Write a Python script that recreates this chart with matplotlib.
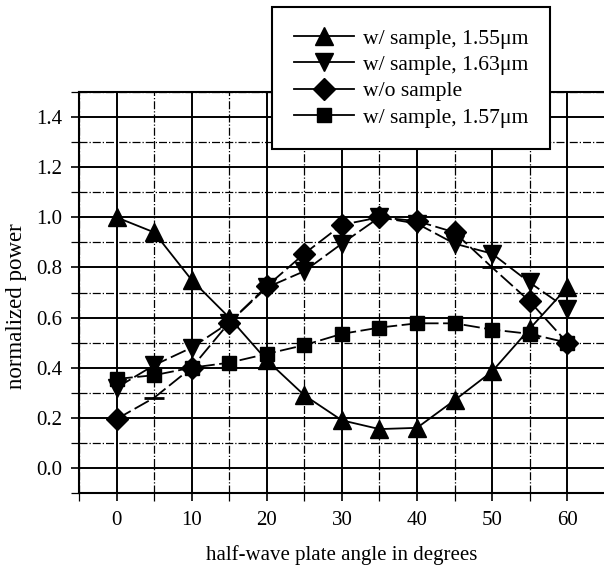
import matplotlib
matplotlib.use("Agg")
import matplotlib.pyplot as plt
from matplotlib.ticker import MultipleLocator
from matplotlib.lines import Line2D

angles = [0, 5, 10, 15, 20, 25, 30, 35, 40, 45, 50, 55, 60]
s155 = [1.00, 0.94, 0.75, 0.60, 0.43, 0.29, 0.19, 0.155, 0.16, 0.27, 0.385, 0.555, 0.72]
s163 = [0.32, 0.41, 0.48, 0.58, 0.72, 0.785, 0.895, 1.00, 0.975, 0.895, 0.855, 0.74, 0.635]
nosample = [0.195, 0.28, 0.40, 0.58, 0.725, 0.855, 0.97, 1.00, 0.985, 0.94, 0.80, 0.665, 0.50]
s157 = [0.355, 0.37, 0.40, 0.42, 0.455, 0.49, 0.535, 0.56, 0.577, 0.577, 0.552, 0.535, 0.50]
labels = ["w/ sample, 1.55\u03bcm", "w/ sample, 1.63\u03bcm", "w/o sample", "w/ sample, 1.57\u03bcm"]
yticks = [0.0, 0.2, 0.4, 0.6, 0.8, 1.0, 1.2, 1.4]
ytick_labels = ["0.0", "0.2", "0.4", "0.6", "0.8", "1.0", "1.2", "1.4"]

plt.rcParams['font.family'] = ['Liberation Serif', 'DejaVu Serif']
plt.rcParams['font.size'] = 15

fig = plt.figure(figsize=(6.04, 5.67), dpi=100)
L, R = 79/604, 1.0
B, T = 1 - 493/567, 1 - 92/567
ax = fig.add_axes([L, B, R - L, T - B])

ax.set_xlim(-5, 64.9)
ax.set_ylim(-0.1, 1.5)
ax.xaxis.set_major_locator(MultipleLocator(10))
ax.xaxis.set_minor_locator(MultipleLocator(5))
ax.yaxis.set_minor_locator(MultipleLocator(0.1))
ax.set_yticks(yticks)
ax.set_yticklabels(ytick_labels)
ax.grid(which='major', color='black', linewidth=1.4, linestyle='-')
ax.grid(which='minor', color='black', linewidth=0.9, linestyle='-.')
ax.set_axisbelow(True)
ax.tick_params(which='both', direction='out', length=6, width=1.2, labelsize=15)
ax.tick_params(which='minor', length=6, width=0.9)
ax.tick_params(axis='x', pad=7)
ax.tick_params(axis='y', pad=6)
for s in ['left', 'bottom', 'top']:
    ax.spines[s].set_linewidth(1.5)
ax.spines['right'].set_visible(False)

dash = (0, (9, 2.5))
ax.plot(angles, s155, color='black', lw=1.3, marker='^', ms=13, zorder=5)
ax.plot(angles, s163, color='black', lw=1.3, linestyle=dash, marker='v', ms=13, zorder=4)
mk = [i for i in range(len(angles)) if angles[i] not in (5, 50)]
ax.plot(angles, nosample, color='black', lw=1.3, linestyle=dash, marker='D', ms=11,
        markevery=mk, zorder=3)
ax.plot([angles[i] for i in range(len(angles)) if i not in mk],
        [nosample[i] for i in range(len(angles)) if i not in mk],
        linestyle='none', marker='_', ms=14, mew=2, color='black', zorder=3)
ax.plot(angles, s157, color='black', lw=1.3, linestyle=dash, marker='s', ms=9.5, zorder=4)

ax.set_xlabel("half-wave plate angle in degrees", fontsize=15, va='center')
ax.xaxis.set_label_coords(0.5 * (L + R) + 0.001, 1 - 555/567, transform=fig.transFigure)
ax.set_ylabel("normalized power", fontsize=16.5, va='center')
ax.yaxis.set_label_coords(17/604, 1 - 306/567, transform=fig.transFigure)

hs = [Line2D([], [], color='black', lw=1.3, marker=m, ms=s) for m, s in
      [('^', 13), ('v', 13), ('D', 11), ('s', 9.5)]]
leg = fig.legend(hs, labels, loc='upper left', bbox_to_anchor=(272/604, 1 - 7/567),
                 bbox_transform=fig.transFigure, fancybox=False, framealpha=1,
                 edgecolor='black', fontsize=15.6, handlelength=2.8, handletextpad=0.4,
                 labelspacing=0.28, borderpad=1.0, borderaxespad=0)
leg.get_frame().set_linewidth(1.5)
leg.set_zorder(10)

fig.savefig("out.png", dpi=100)
